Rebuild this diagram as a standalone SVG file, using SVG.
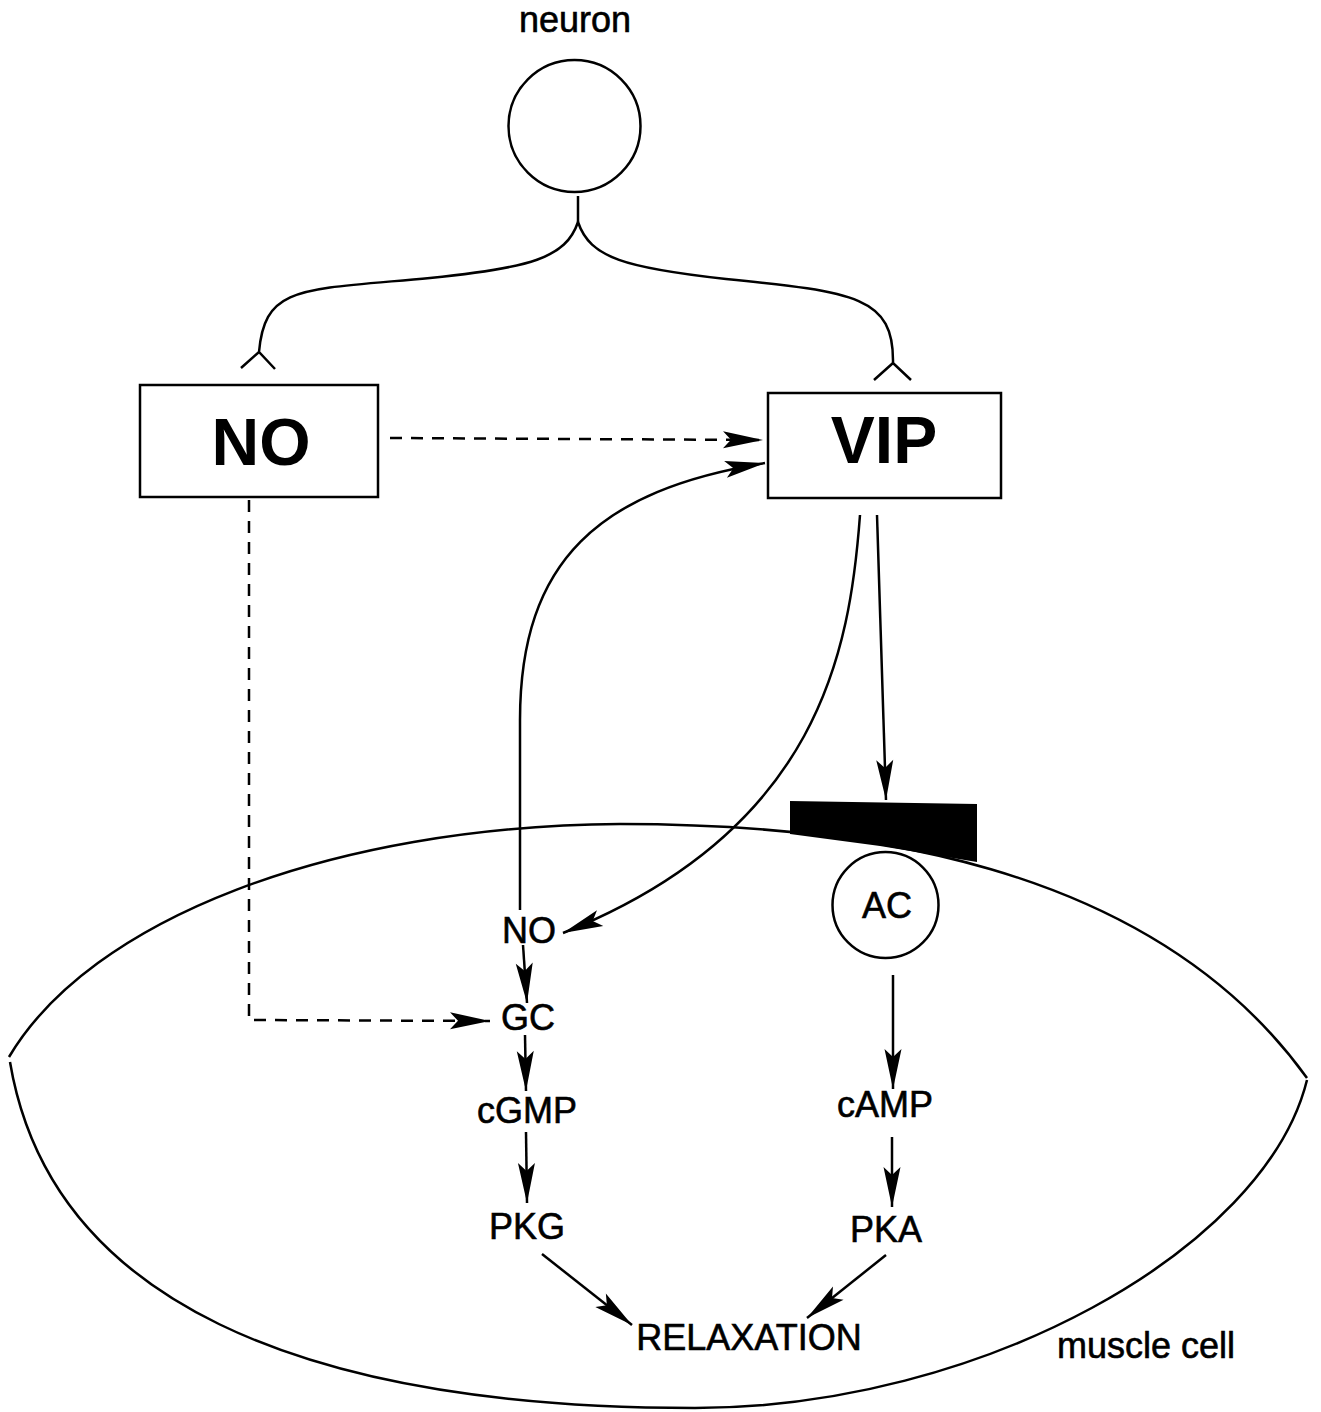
<svg xmlns="http://www.w3.org/2000/svg" width="1321" height="1412" viewBox="0 0 1321 1412">
<style>
.t{font-family:"Liberation Sans",Arial,sans-serif;font-size:36px;fill:#000;text-anchor:middle;stroke:#000;stroke-width:0.6}
.big{font-family:"Liberation Sans",Arial,sans-serif;font-size:66px;font-weight:bold;fill:#000;text-anchor:middle}
.ln{fill:none;stroke:#000;stroke-width:2.5}
.dash{fill:none;stroke:#000;stroke-width:2.5;stroke-dasharray:12 9}
.box{fill:#fff;stroke:#000;stroke-width:2.5}
</style>
<defs>
<marker id="ah" viewBox="-41 -10 42 20" refX="0" refY="0" markerWidth="42" markerHeight="20" markerUnits="userSpaceOnUse" orient="auto">
<path d="M0,0 L-40,-8.5 L-32,0 L-40,8.5 Z" fill="#000"/>
</marker>
</defs>
<rect width="1321" height="1412" fill="#fff"/>

<g id="muscle-cell">
<path class="ln" stroke-width="3" d="M9,1057 C90,920 330,826 620,824 C850,824 1150,860 1307,1078"/>
<path class="ln" stroke-width="3" d="M10,1062 C50,1300 300,1408 695,1408 C980,1408 1265,1250 1307,1080"/>
<text class="t" x="1057" y="1358" style="text-anchor:start">muscle cell</text>
</g>

<g id="receptor">
<polygon points="790,801 977,804 977,862 880,846 790,834" fill="#000"/>
</g>

<g id="neuron">
<circle cx="574.5" cy="126" r="66" class="box"/>
<text class="t" x="575" y="32">neuron</text>
<path class="ln" d="M578,196 L578,222"/>
<path class="ln" d="M578,222 C566,258 530,268 430,278 C300,290 265,285 259,352 M241,368 L259,352 L275,369"/>
<path class="ln" d="M578,222 C590,258 626,268 726,279 C856,292 894,297 893,363 M874,380 L893,363 L911,380"/>
</g>

<g id="NO-box">
<rect class="box" x="140" y="385" width="238" height="112"/>
<text class="big" x="261" y="465">NO</text>
</g>

<g id="VIP-box">
<rect class="box" x="768" y="393" width="233" height="105"/>
<text class="big" x="884" y="463">VIP</text>
</g>

<g id="AC">
<circle cx="885.5" cy="905" r="53" class="box"/>
<text class="t" x="887" y="918">AC</text>
</g>

<g id="labels">
<text class="t" x="529" y="943">NO</text>
<text class="t" x="528" y="1030">GC</text>
<text class="t" x="527" y="1123">cGMP</text>
<text class="t" x="527" y="1239">PKG</text>
<text class="t" x="885" y="1117">cAMP</text>
<text class="t" x="886" y="1242">PKA</text>
<text class="t" x="749" y="1350">RELAXATION</text>
</g>

<g id="connectors">
<path class="dash" d="M390,438 L763,440" marker-end="url(#ah)"/>
<path class="dash" d="M249,500 L249,1020 L490,1021" marker-end="url(#ah)"/>
<path class="ln" d="M860,515 C850,650 820,830 563,933" marker-end="url(#ah)"/>
<path class="ln" d="M520,910 L520,720 C520,560 600,490 765,463" marker-end="url(#ah)"/>
<path class="ln" d="M877,515 L886,800" marker-end="url(#ah)"/>
<path class="ln" d="M523,945 L527,1003" marker-end="url(#ah)"/>
<path class="ln" d="M525,1035 L526,1091" marker-end="url(#ah)"/>
<path class="ln" d="M526,1132 L527,1203" marker-end="url(#ah)"/>
<path class="ln" d="M893,975 L893,1089" marker-end="url(#ah)"/>
<path class="ln" d="M892,1137 L892,1207" marker-end="url(#ah)"/>
<path class="ln" d="M542,1254 L632,1325" marker-end="url(#ah)"/>
<path class="ln" d="M886,1255 L807,1318" marker-end="url(#ah)"/>
</g>
</svg>
